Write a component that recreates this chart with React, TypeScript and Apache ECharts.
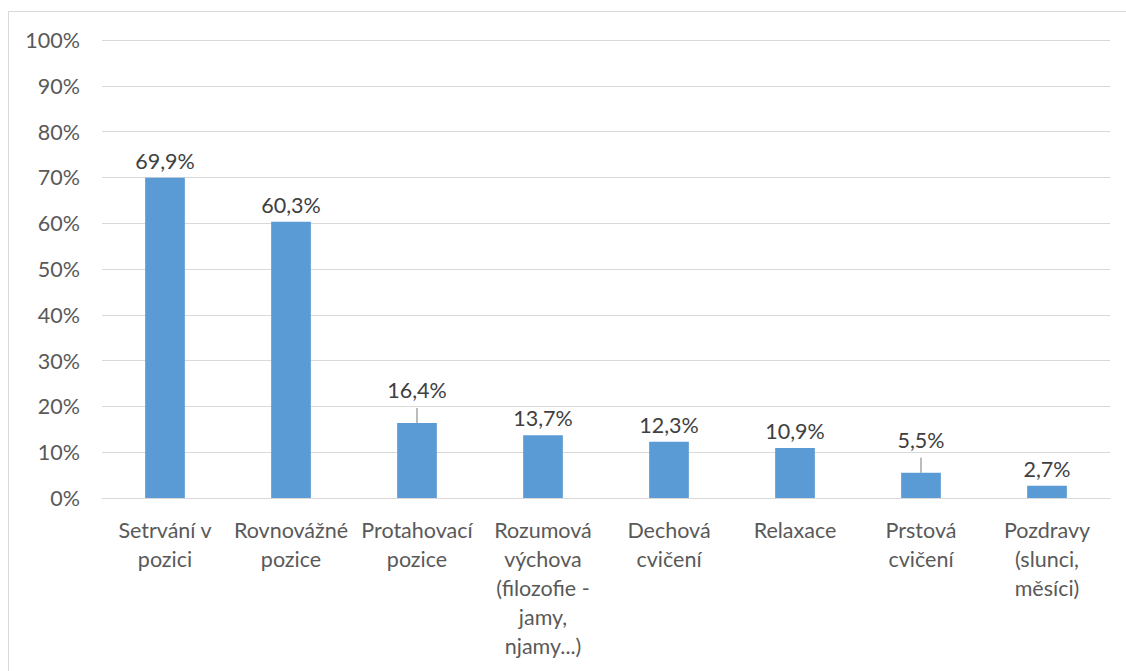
import React, { useEffect, useRef } from "react";
import * as echarts from "echarts";

const categories = [
  "Setrvání v\npozici",
  "Rovnovážné\npozice",
  "Protahovací\npozice",
  "Rozumová\nvýchova\n(filozofie -\njamy,\nnjamy...)",
  "Dechová\ncvičení",
  "Relaxace",
  "Prstová\ncvičení",
  "Pozdravy\n(slunci,\nměsíci)",
];
const values = [69.9, 60.3, 16.4, 13.7, 12.3, 10.9, 5.5, 2.7];
// labels lifted above their bar and joined to it by a short leader line
const liftedLabels = [2, 6];
const yTicks = [0, 10, 20, 30, 40, 50, 60, 70, 80, 90, 100];

const FONT = "Lato";
const FONT_SIZE = 21.5;
const LIFT = 16;

const fmt = (v: number) => v.toFixed(1).replace(".", ",") + "%";

export default function App() {
  const ref = useRef<HTMLDivElement>(null);

  useEffect(() => {
    if (!ref.current) return;
    const chart = echarts.init(ref.current, null, { renderer: "svg" });
    chart.setOption({
      animation: false,
      backgroundColor: "#ffffff",
      graphic: [
        {
          type: "rect",
          shape: { x: 8.5, y: 11.5, width: 1200, height: 700 },
          style: { fill: "none", stroke: "#d9d9d9", lineWidth: 1 },
          silent: true,
        },
      ],
      grid: { left: 102, right: 16, top: 40, bottom: 173, containLabel: false },
      xAxis: {
        type: "category",
        data: categories,
        axisLine: { show: true, lineStyle: { color: "#d9d9d9", width: 1 } },
        axisTick: { show: false },
        axisLabel: {
          interval: 0,
          margin: 17,
          color: "#595959",
          fontFamily: FONT,
          fontSize: FONT_SIZE,
          lineHeight: 29,
          verticalAlign: "top",
        },
      },
      yAxis: {
        type: "value",
        min: 0,
        max: 100,
        interval: 10,
        axisLine: { show: false },
        axisTick: { show: false },
        splitLine: { lineStyle: { color: "#d9d9d9", width: 1 } },
        axisLabel: {
          margin: 22,
          color: "#595959",
          fontFamily: FONT,
          fontSize: FONT_SIZE,
          formatter: (v: number) => (yTicks.includes(v) ? v + "%" : ""),
        },
      },
      series: [
        {
          type: "bar",
          data: values.map((v, i) => ({
            value: v,
            label: liftedLabels.includes(i) ? { offset: [0, -LIFT] } : undefined,
          })),
          barWidth: "31.5%",
          itemStyle: { color: "#5b9bd5" },
          label: {
            show: true,
            position: "top",
            distance: 6,
            color: "#404040",
            fontFamily: FONT,
            fontSize: FONT_SIZE,
            formatter: (p: any) => fmt(p.value),
          },
          z: 3,
        },
        {
          type: "custom",
          data: liftedLabels.map((i) => [i, values[i]]),
          z: 2,
          silent: true,
          renderItem: (params: any, api: any) => {
            const p = api.coord([api.value(0), api.value(1)]);
            return {
              type: "line",
              shape: { x1: p[0], y1: p[1], x2: p[0], y2: p[1] - LIFT + 1 },
              style: { stroke: "#a6a6a6", lineWidth: 1.5 },
            };
          },
        },
      ],
    });
    return () => chart.dispose();
  }, []);

  return (
    <div
      ref={ref}
      style={{ position: "absolute", left: 0, top: 0, width: 1126, height: 671 }}
    />
  );
}
